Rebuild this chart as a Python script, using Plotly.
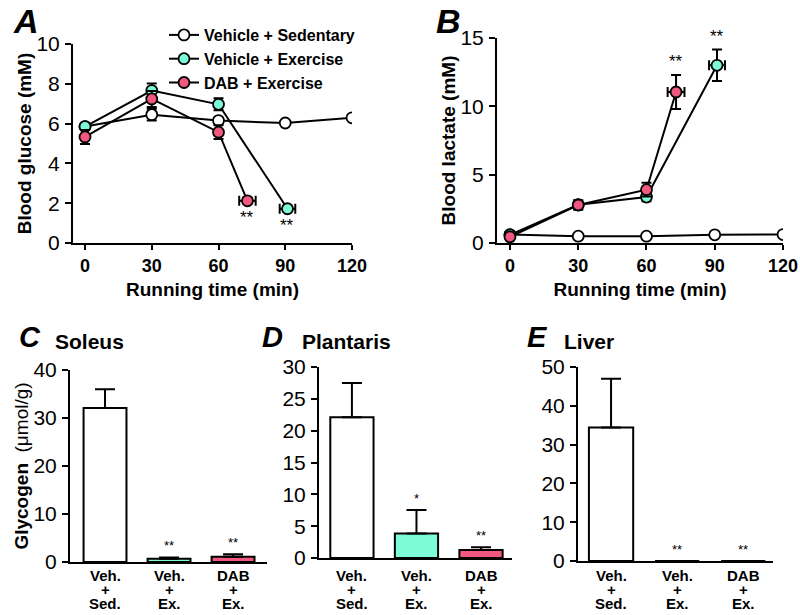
import plotly.graph_objects as go

# ---------------- data ----------------
time_sed = [0, 30, 60, 90, 120]
time_vex = [0, 30, 60, 91]
time_dab = [0, 30, 60, 73]
xerr_vex = [0, 0, 0, 3.5]
xerr_dab = [0, 0, 0, 3.7]

glu_sed = [5.85, 6.45, 6.15, 6.03, 6.29]
glu_sed_err = [0.12, 0.3, 0.12, 0.1, 0.1]
glu_vex = [5.85, 7.66, 6.97, 1.72]
glu_vex_err = [0.15, 0.35, 0.3, 0.15]
glu_dab = [5.33, 7.24, 5.57, 2.12]
glu_dab_err = [0.35, 0.4, 0.35, 0.15]

lac_sed = [0.62, 0.5, 0.5, 0.6, 0.62]
lac_sed_err = [0.05, 0.05, 0.05, 0.05, 0.05]
lac_vex = [0.6, 2.8, 3.36, 13.0]
lac_vex_err = [0.1, 0.3, 0.3, 1.15]
lac_dab = [0.45, 2.78, 3.9, 11.05]
lac_dab_err = [0.1, 0.35, 0.5, 1.25]

bar_groups = [["Veh.", "+", "Sed."], ["Veh.", "+", "Ex."], ["DAB", "+", "Ex."]]
soleus = [32.1, 0.7, 1.1]
soleus_err = [3.9, 0.25, 0.5]
soleus_sig = ["", "**", "**"]
plantaris = [22.1, 3.85, 1.25]
plantaris_err = [5.4, 3.7, 0.45]
plantaris_sig = ["", "*", "**"]
liver = [34.4, 0.0, 0.0]
liver_err = [12.6, 0.0, 0.0]
liver_sig = ["", "**", "**"]

series_names = ["Vehicle + Sedentary", "Vehicle + Exercise", "DAB + Exercise"]
WHITE = "#ffffff"
CYAN = "#7dfbd8"
PINK = "#f2587f"
colors = [WHITE, CYAN, PINK]

FONT = "Liberation Sans, Arial, Helvetica, sans-serif"

fig = go.Figure()


def line_trace(x, y, err, xerr, color, name, xa, ya, showlegend):
    ex = dict(type="data", array=xerr, visible=True, color="black",
              thickness=2, width=5) if xerr is not None else None
    return go.Scatter(
        x=x, y=y, mode="lines+markers", name=name, showlegend=showlegend,
        xaxis=xa, yaxis=ya,
        line=dict(color="black", width=2),
        marker=dict(size=11, color=color, line=dict(color="black", width=1.8)),
        error_y=dict(type="data", array=err, visible=True, color="black",
                     thickness=2, width=5),
        error_x=ex,
    )


# Panel A
fig.add_trace(line_trace(time_sed, glu_sed, glu_sed_err, None, WHITE, series_names[0], "x", "y", True))
fig.add_trace(line_trace(time_vex, glu_vex, glu_vex_err, xerr_vex, CYAN, series_names[1], "x", "y", True))
fig.add_trace(line_trace(time_dab, glu_dab, glu_dab_err, xerr_dab, PINK, series_names[2], "x", "y", True))
# Panel B
fig.add_trace(line_trace(time_sed, lac_sed, lac_sed_err, None, WHITE, series_names[0], "x2", "y2", False))
fig.add_trace(line_trace(time_vex, lac_vex, lac_vex_err, xerr_vex, CYAN, series_names[1], "x2", "y2", False))
fig.add_trace(line_trace(time_dab, lac_dab, lac_dab_err, xerr_dab, PINK, series_names[2], "x2", "y2", False))

# Bar panels
bar_panels = [
    ("x3", "y3", soleus, soleus_err, soleus_sig),
    ("x4", "y4", plantaris, plantaris_err, plantaris_sig),
    ("x5", "y5", liver, liver_err, liver_sig),
]
for xa, ya, vals, errs, sig in bar_panels:
    fig.add_trace(go.Bar(
        x=list(range(len(vals))), y=vals, xaxis=xa, yaxis=ya, showlegend=False,
        width=0.67,
        marker=dict(color=colors, line=dict(color="black", width=2)),
        error_y=dict(type="data", symmetric=False, array=errs,
                     arrayminus=[0] * len(errs), visible=True,
                     color="black", thickness=2, width=10),
    ))

annotations = []
star_font = dict(size=17, family=FONT, color="black")
# significance stars on time courses
annotations.append(dict(x=time_dab[-1], y=glu_dab[-1], xref="x", yref="y", text="**",
                        showarrow=False, yshift=-17, font=star_font))
annotations.append(dict(x=time_vex[-1], y=glu_vex[-1], xref="x", yref="y", text="**",
                        showarrow=False, yshift=-17, font=star_font))
annotations.append(dict(x=time_dab[-1], y=lac_dab[-1] + lac_dab_err[-1], xref="x2", yref="y2", text="**",
                        showarrow=False, yanchor="bottom", yshift=2, font=star_font))
annotations.append(dict(x=time_vex[-1], y=lac_vex[-1] + lac_vex_err[-1], xref="x2", yref="y2", text="**",
                        showarrow=False, yanchor="bottom", yshift=2, font=star_font))

# stars on bars + category labels
for xa, ya, vals, errs, sig in bar_panels:
    for i, s in enumerate(sig):
        if s:
            annotations.append(dict(x=i, y=vals[i] + errs[i], xref=xa, yref=ya, text=s,
                                    showarrow=False, yanchor="bottom", yshift=2,
                                    font=dict(size=13, family=FONT, color="black")))
    for i, lines in enumerate(bar_groups):
        for k, (txt, ypx) in enumerate(zip(lines, [575, 589, 603])):
            annotations.append(dict(x=i, y=1 - ypx / 615, xref=xa, yref="paper", text="<b>%s</b>" % txt,
                                    showarrow=False, xanchor="center", yanchor="middle",
                                    font=dict(size=15, family=FONT, color="black")))

# panel letters and titles
letters = [("A", 26, 21, 34), ("B", 448, 21, 34), ("C", 30, 337, 29), ("D", 272, 337, 29), ("E", 537, 337, 29)]
for t, xp, yp, fs in letters:
    annotations.append(dict(x=xp / 800, y=1 - yp / 615, xref="paper", yref="paper",
                            text="<b><i>%s</i></b>" % t, showarrow=False,
                            xanchor="center", yanchor="middle",
                            font=dict(size=fs, family=FONT, color="black")))
titles = [("Soleus", 53, 341), ("Plantaris", 300, 341), ("Liver", 562, 341)]
for t, xp, yp in titles:
    annotations.append(dict(x=xp / 800, y=1 - yp / 615, xref="paper", yref="paper",
                            text="<b>%s</b>" % t, showarrow=False, xanchor="left", yanchor="middle",
                            font=dict(size=21, family=FONT, color="black")))

tickfont_y = dict(size=21, family=FONT, color="black")
tickfont_x = dict(size=18, family=FONT, color="black", weight="bold")
titlefont = dict(size=19, family=FONT, color="black", weight="bold")


def yax(domain, rng, dtick, title=None, anchor=None):
    d = dict(domain=domain, range=rng, dtick=dtick, tick0=0, showline=True, linecolor="black",
             linewidth=2, ticks="outside", ticklen=6, tickwidth=2, tickcolor="black",
             showgrid=False, zeroline=False, tickfont=tickfont_y, anchor=anchor,
             ticklabelstandoff=1, automargin=False)
    if title:
        d["title"] = dict(text=title, font=titlefont, standoff=0)
    return d


def xax_line(domain, rng, anchor, title=None):
    d = dict(domain=domain, range=rng, tickvals=[0, 30, 60, 90, 120], showline=True,
             linecolor="black", linewidth=2, ticks="outside", ticklen=5, tickwidth=2,
             tickcolor="black", showgrid=False, zeroline=False, tickfont=tickfont_x,
             anchor=anchor, automargin=False)
    if title:
        d["title"] = dict(text=title, font=titlefont, standoff=8)
    return d


def xax_bar(domain, rng, anchor):
    return dict(domain=domain, range=rng, showline=True, linecolor="black", linewidth=2,
                ticks="", showticklabels=False, showgrid=False, zeroline=False,
                anchor=anchor, automargin=False)


fig.update_layout(
    width=800, height=615,
    margin=dict(l=0, r=0, t=0, b=0, autoexpand=False),
    paper_bgcolor="white", plot_bgcolor="white",
    font=dict(family=FONT, color="black"),
    bargap=0.3,
    xaxis=xax_line([73 / 800, 352 / 800], [-5.4, 120], "y", "Running time (min)"),
    yaxis=yax([1 - 243 / 615, 1 - 44 / 615], [0, 10], 2, "Blood glucose (mM)", "x"),
    xaxis2=xax_line([497 / 800, 783 / 800], [-5.7, 120], "y2", "Running time (min)"),
    yaxis2=yax([1 - 243 / 615, 1 - 38 / 615], [0, 15], 5, "Blood lactate (mM)", "x2"),
    xaxis3=xax_bar([70 / 800, 267 / 800], [-0.547, 2.53], "y3"),
    yaxis3=yax([1 - 562 / 615, 1 - 370 / 615], [0, 40], 10,
               "<b>Glycogen</b>  <span style='font-weight:normal'>(μmol/g)</span>", "x3"),
    xaxis4=xax_bar([319 / 800, 512 / 800], [-0.51, 2.48], "y4"),
    yaxis4=yax([1 - 558 / 615, 1 - 367 / 615], [0, 30], 5, None, "x4"),
    xaxis5=xax_bar([578 / 800, 773 / 800], [-0.5, 2.45], "y5"),
    yaxis5=yax([1 - 561 / 615, 1 - 367 / 615], [0, 50], 10, None, "x5"),
    legend=dict(x=164 / 800, y=1 - 18 / 615, xanchor="left", yanchor="top",
                bgcolor="rgba(0,0,0,0)", font=dict(size=16, family=FONT, color="black", weight="bold"),
                itemwidth=30, tracegroupgap=0),
    annotations=annotations,
)

fig.write_html("out.html", config={"displayModeBar": False},
               post_script="document.body.style.margin='0';document.body.style.overflow='hidden';")
